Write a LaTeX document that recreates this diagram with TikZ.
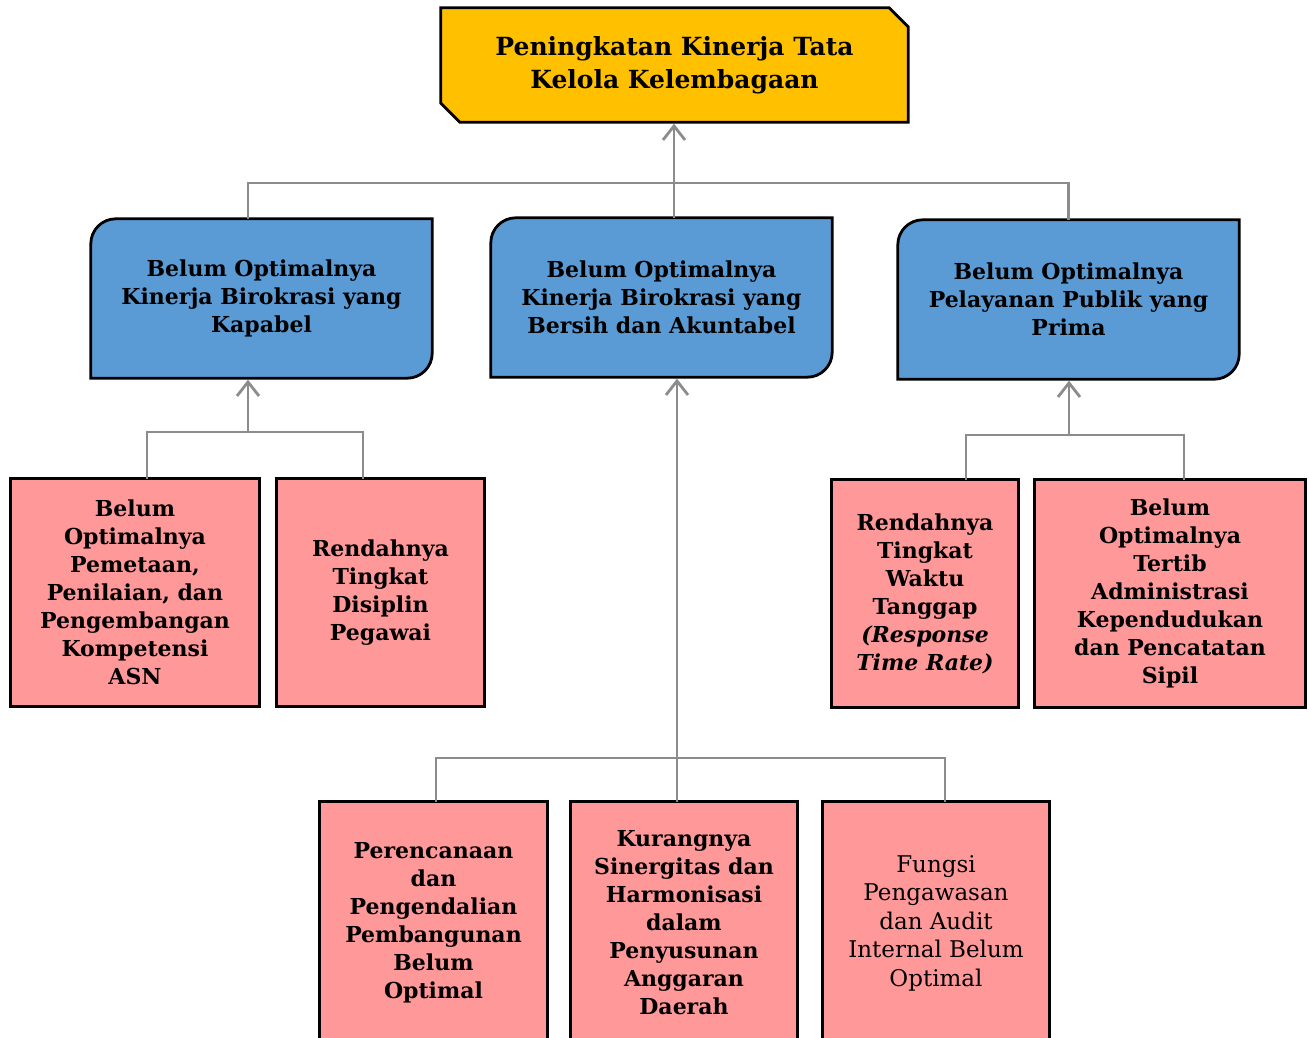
\documentclass[tikz,border=0pt]{standalone}
\usepackage{fontspec}
\setmainfont{DejaVu Serif}
\usetikzlibrary{arrows.meta,backgrounds}
\definecolor{goldf}{HTML}{FFC000}
\definecolor{bluef}{HTML}{5B9BD5}
\definecolor{pinkf}{HTML}{FF9999}
\definecolor{connc}{HTML}{8C8C8C}
\newcommand{\blueshape}[1]{\draw[outl, fill=bluef] ([yshift=-25]#1.north west) arc[start angle=180, end angle=90, radius=25] -- (#1.north east) -- ([yshift=25]#1.south east) arc[start angle=0, end angle=-90, radius=25] -- (#1.south west) -- cycle;}
\newcommand{\pinkshape}[1]{\draw[outl, fill=pinkf] (#1.south west) rectangle (#1.north east);}
\begin{document}
\begin{tikzpicture}[x=1pt,y=1pt,
  txt/.style={inner sep=0pt, align=center, font=\bfseries\fontsize{22}{28}\selectfont},
  ttl/.style={inner sep=0pt, align=center, font=\bfseries\fontsize{25}{33}\selectfont},
  outl/.style={draw=black, line width=2.8pt, line join=miter},
  ln/.style={draw=connc, line width=2.8pt},
  arr/.style={ln, -{Straight Barb[length=14pt,width=22pt,line width=2.8pt]}}]
\useasboundingbox (0,0) rectangle (1309,-1038);
% nodes
\node[ttl, minimum width=467, minimum height=114] (top) at (674.5,-65) {Peningkatan Kinerja Tata\\Kelola Kelembagaan};
\node[txt, minimum width=341, minimum height=159] (b1) at (261.5,-298.5) {Belum Optimalnya\\Kinerja Birokrasi yang\\Kapabel};
\node[txt, minimum width=341, minimum height=159] (b2) at (661.5,-297.5) {Belum Optimalnya\\Kinerja Birokrasi yang\\Bersih dan Akuntabel};
\node[txt, minimum width=341, minimum height=159] (b3) at (1068.5,-299.5) {Belum Optimalnya\\Pelayanan Publik yang\\Prima};
\node[txt, minimum width=248, minimum height=227] (p1) at (135,-592.5) {Belum\\Optimalnya\\Pemetaan,\\Penilaian, dan\\Pengembangan\\Kompetensi\\ASN};
\node[txt, minimum width=207, minimum height=227] (p2) at (380.5,-592.5) {Rendahnya\\Tingkat\\Disiplin\\Pegawai};
\node[txt, minimum width=186, minimum height=227] (p3) at (925,-593.5) {Rendahnya\\Tingkat\\Waktu\\Tanggap\\\textit{(Response}\\\textit{Time Rate)}};
\node[txt, minimum width=270, minimum height=227] (p4) at (1170,-593.5) {Belum\\Optimalnya\\Tertib\\Administrasi\\Kependudukan\\dan Pencatatan\\Sipil};
\node[txt, minimum width=227, minimum height=242] (q1) at (433.5,-923) {Perencanaan\\dan\\Pengendalian\\Pembangunan\\Belum\\Optimal};
\node[txt, minimum width=226, minimum height=242] (q2) at (684,-923) {Kurangnya\\Sinergitas dan\\Harmonisasi\\dalam\\Penyusunan\\Anggaran\\Daerah};
\node[txt, font=\mdseries\fontsize{23}{28.5}\selectfont, minimum width=226, minimum height=242] (q3) at (936,-923) {Fungsi\\Pengawasan\\dan Audit\\Internal Belum\\Optimal};
% shapes
\begin{scope}[on background layer]
\fill[white] (0,0) rectangle (1309,-1038);
\draw[outl, fill=goldf] (top.north west) -- ([xshift=-19]top.north east) -- ([yshift=-19]top.north east) -- (top.south east) -- ([xshift=19]top.south west) -- ([yshift=19]top.south west) -- cycle;
\blueshape{b1}\blueshape{b2}\blueshape{b3}
\pinkshape{p1}\pinkshape{p2}\pinkshape{p3}\pinkshape{p4}
\pinkshape{q1}\pinkshape{q2}\pinkshape{q3}
\end{scope}
% connectors
\coordinate (j1) at (674,-183);
\draw[arr] (j1) -- ([yshift=-1.5]j1 |- top.south);
\draw[ln] ([xshift=-13.5]b1.north) |- (b3.north |- j1) -- (b3.north);
\draw[ln] (j1) -- (j1 |- b2.north);
\coordinate (j2) at (248,-432);
\draw[arr] (j2) -- ([yshift=-1.5]j2 |- b1.south);
\draw[ln] ([xshift=12]p1.north) |- ([xshift=-17.5]p2.north |- j2) -- ([xshift=-17.5]p2.north);
\coordinate (j3) at (1069,-435);
\draw[arr] (j3) -- ([yshift=-1.5]j3 |- b3.south);
\draw[ln] ([xshift=41]p3.north) |- ([xshift=14]p4.north |- j3) -- ([xshift=14]p4.north);
\coordinate (j4) at (677,-758);
\draw[arr] (j4) -- ([yshift=-1.5]j4 |- b2.south);
\draw[ln] ([xshift=2.5]q1.north) |- ([xshift=9]q3.north |- j4) -- ([xshift=9]q3.north);
\draw[ln] (j4) -- ([xshift=-7]q2.north);
\end{tikzpicture}
\end{document}
